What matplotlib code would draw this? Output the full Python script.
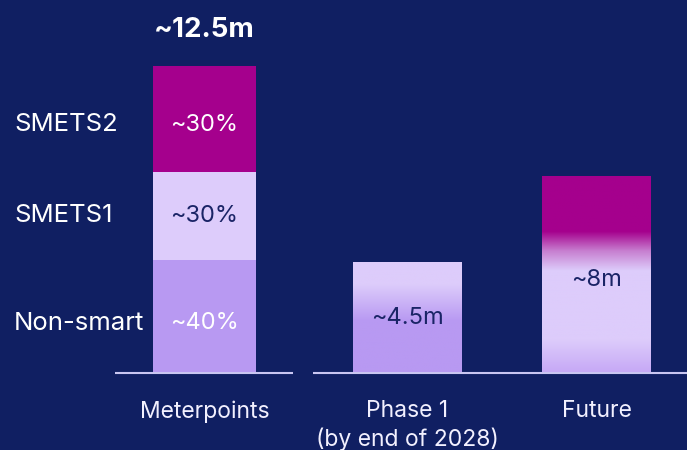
import numpy as np
import matplotlib.pyplot as plt
from matplotlib.colors import LinearSegmentedColormap

plt.rcParams['font.family'] = ['Inter', 'DejaVu Sans']

# data (millions of meterpoints)
categories = ['Meterpoints', 'Phase 1\n(by end of 2028)', 'Future']
segments = ['Non-smart', 'SMETS1', 'SMETS2']
segment_values = [4.6, 3.6, 4.3]
segment_labels = ['~40%', '~30%', '~30%']
total_label = '~12.5m'
phase1_value = 4.5
phase1_label = '~4.5m'
future_value = 8.0
future_label = '~8m'

bg = '#101F62'
navy_text = '#1A2466'
c_nonsmart = '#B899F2'
c_smets1 = '#DDCCFB'
c_smets2 = '#A5008D'

xpos = [204.5, 407.5, 596.5]
widths = [103, 109, 109]
label_shift = [0.27, 0.0, 0.25]

fig = plt.figure(figsize=(6.87, 4.5), dpi=100, facecolor=bg)
ax = fig.add_axes([0, 0, 1, 1])
ax.set_facecolor(bg)
ax.set_xlim(0, 687)
ax.set_ylim(-3.135, 15.19)
ax.axis('off')

# stacked meterpoints bar
seg_colors = [c_nonsmart, c_smets1, c_smets2]
seg_text = ['white', navy_text, 'white']
bottom = 0
for name, v, lab, col, tc, sh in zip(segments, segment_values, segment_labels,
                                     seg_colors, seg_text, label_shift):
    ax.bar(xpos[0], v, width=widths[0], bottom=bottom, color=col, zorder=2)
    mid = bottom + v / 2 - sh
    ax.text(xpos[0], mid, lab, ha='center', va='center', color=tc, fontsize=17, zorder=3)
    ax.text(14, mid, name, ha='left', va='center', color='white', fontsize=18.5)
    bottom += v
ax.text(xpos[0], bottom + 1.45, total_label, ha='center', va='center', color='white',
        fontsize=20, fontweight='bold')


def gradient_bar(x, w, h, stops):
    cmap = LinearSegmentedColormap.from_list('g', stops)
    grad = np.linspace(0, 1, 256).reshape(-1, 1)
    ax.imshow(grad, cmap=cmap, origin='lower', aspect='auto',
              extent=(x - w / 2, x + w / 2, 0, h), zorder=2)


gradient_bar(xpos[1], widths[1], phase1_value,
             [(0, c_nonsmart), (0.47, c_nonsmart), (0.80, c_smets1), (1, c_smets1)])
gradient_bar(xpos[2], widths[2], future_value,
             [(0, '#C6A8F6'), (0.17, c_smets1), (0.52, c_smets1), (0.62, '#C77FD0'),
              (0.72, c_smets2), (1, c_smets2)])

ax.text(xpos[1], phase1_value * 0.5, phase1_label, ha='center', va='center',
        color=navy_text, fontsize=17, zorder=3)
ax.text(xpos[2], future_value * 0.476, future_label, ha='center', va='center',
        color=navy_text, fontsize=17, zorder=3)

# baselines
ax.hlines(0, 115, 293, color='#C9C6F2', lw=1.5, zorder=3)
ax.hlines(0, 313, 687, color='#C9C6F2', lw=1.5, zorder=3)

for x, c in zip(xpos, categories):
    ax.text(x, -1.1, c, ha='center', va='top', color='#F2F0FF', fontsize=16.5,
            linespacing=1.3)

fig.savefig('out.png', dpi=100, facecolor=bg)
